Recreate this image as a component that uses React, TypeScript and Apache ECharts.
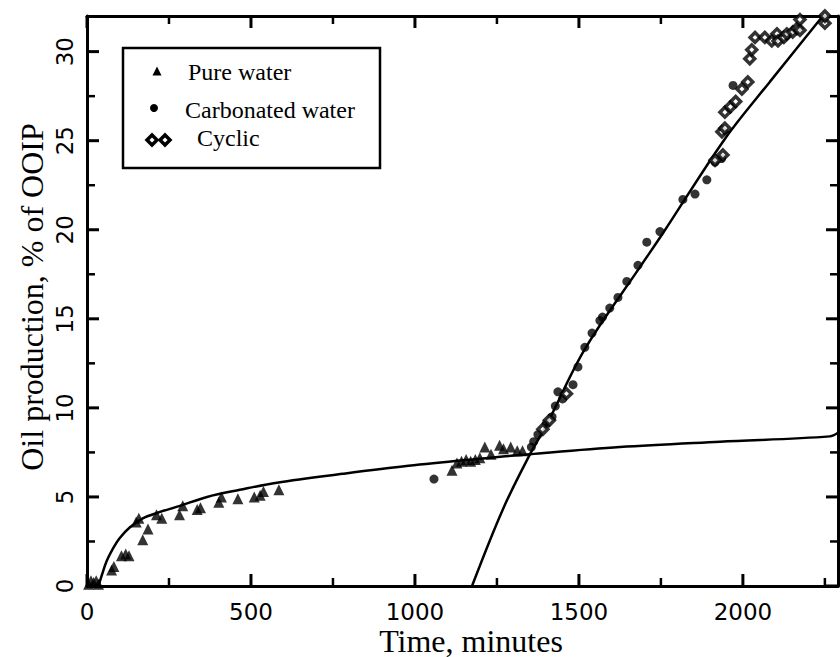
import React, { useEffect, useRef } from "react";
import * as echarts from "echarts";

// ---- data (time in minutes, oil production in % of OOIP) ----
const pureWater: number[][] = [
  [5, 0.1], [12, 0.3], [20, 0.2], [28, 0.3], [35, 0.1], [75, 0.9], [82, 1.1],
  [105, 1.7], [118, 1.8], [128, 1.7], [150, 3.6], [158, 3.8], [170, 2.6],
  [186, 3.2], [212, 4.0], [228, 3.8], [282, 4.0], [292, 4.5], [336, 4.3],
  [346, 4.4], [402, 4.7], [410, 5.0], [460, 4.9], [510, 5.0], [528, 5.1],
  [538, 5.3], [585, 5.4],
  [1113, 6.5], [1128, 6.9], [1142, 7.0], [1156, 7.1], [1170, 7.0], [1184, 7.1],
  [1198, 7.2], [1213, 7.8], [1232, 7.4], [1258, 7.9], [1270, 7.7], [1292, 7.8],
  [1312, 7.6], [1328, 7.6],
];

const carbonatedWater: number[][] = [
  [1058, 6.0], [1355, 7.8], [1362, 8.1], [1375, 8.5], [1400, 9.1], [1418, 9.5],
  [1428, 10.1], [1436, 10.9], [1450, 10.5], [1482, 11.3], [1497, 12.3],
  [1518, 13.4], [1540, 14.2], [1564, 14.9], [1572, 15.1], [1594, 15.6],
  [1619, 16.2], [1646, 17.1], [1680, 18.0], [1707, 19.3], [1747, 19.9],
  [1817, 21.7], [1854, 22.0], [1890, 22.8], [1915, 23.8], [1935, 24.0],
  [1970, 28.1],
];

const cyclic: number[][] = [
  [1390, 8.8], [1410, 9.3], [1462, 10.8], [1915, 23.9], [1939, 24.2],
  [1936, 25.5], [1945, 25.7], [1945, 26.6], [1962, 26.9], [1978, 27.2],
  [1997, 27.9], [2015, 28.3], [2021, 29.6], [2027, 30.1], [2037, 30.8],
  [2067, 30.8], [2088, 30.6], [2104, 31.0], [2107, 30.6], [2125, 30.8],
  [2134, 31.0], [2152, 31.1], [2165, 31.3], [2174, 31.2], [2174, 31.8],
  [2250, 31.6], [2250, 32.0],
];

const pureFit: number[][] = [
  [35, 0], [45, 0.6], [60, 1.4], [79, 2.1], [100, 2.7], [131, 3.3], [170, 3.8],
  [213, 4.1], [283, 4.5], [366, 5.0], [466, 5.4], [579, 5.8], [780, 6.3],
  [980, 6.75], [1200, 7.15], [1351, 7.4], [1625, 7.8],
  [1930, 8.1], [2265, 8.4], [2290, 8.6],
];

const carbonatedFit: number[][] = [
  [1174, 0], [1268, 4.3], [1351, 7.4], [1400, 9.0], [1518, 13.3],
  [1686, 17.9], [1756, 19.8], [1945, 25.1], [2082, 28.3], [2235, 31.8],
  [2262, 32.4],
];

// ---- axes ----
const xMin = 0, xMax = 2290, xStep = 500;
const yMin = 0, yMax = 32, yStep = 5;
const xMajorTicks = [0, 500, 1000, 1500, 2000];
const xMinorTicks = [250, 750, 1250, 1750, 2250];
const yMajorTicks = [0, 5, 10, 15, 20, 25, 30];
const yMinorTicks = [2.5, 7.5, 12.5, 17.5, 22.5, 27.5];

const legendNames = ["Pure water", "Carbonated water", "Cyclic"];
const xTitle = "Time, minutes";
const yTitle = "Oil production, % of OOIP";

export default function App() {
  const ref = useRef<HTMLDivElement>(null);

  useEffect(() => {
    document.body.style.margin = "0";
    if (!ref.current) return;
    const chart = echarts.init(ref.current, null, { renderer: "svg" });

    const black = "#000";
    const tickFont = { color: black, fontSize: 23, fontFamily: "DejaVu Sans" };

    const axisCommon = {
      type: "value",
      axisLine: { show: true, onZero: false, lineStyle: { color: black, width: 3 } },
      axisTick: { show: false },
      minorTick: { show: false },
      splitLine: { show: false },
      minorSplitLine: { show: false },
    };
    const xRange = { min: xMin, max: xMax, interval: xStep };
    const yRange = { min: yMin, max: yMax, interval: yStep };

    const diamond = (cx: number, cy: number, r: number) => [
      [cx, cy - r], [cx + r, cy], [cx, cy + r], [cx - r, cy],
    ];

    const baseGraphic: any[] = [
      {
        type: "text", x: 471, y: 641, z: 11,
        style: { text: xTitle, fontSize: 32, fontFamily: "Liberation Serif", fill: black, align: "center", verticalAlign: "middle" },
      },
      {
        type: "text", x: 32, y: 297, rotation: Math.PI / 2, z: 11,
        style: { text: yTitle, fontSize: 32, fontFamily: "Liberation Serif", fill: black, align: "center", verticalAlign: "middle" },
      },
      {
        type: "rect",
        shape: { x: 123, y: 48, width: 257, height: 120 },
        style: { fill: "#fff", stroke: black, lineWidth: 2.5 },
        z: 10,
      },
      {
        type: "polygon",
        shape: { points: [[157, 66.5], [152.5, 75.5], [161.5, 75.5]] },
        style: { fill: black },
        z: 11,
      },
      { type: "circle", shape: { cx: 154, cy: 108, r: 4 }, style: { fill: black }, z: 11 },
      {
        type: "polygon",
        shape: { points: diamond(152, 140, 5) },
        style: { fill: "#fff", stroke: black, lineWidth: 3.5 },
        z: 11,
      },
      {
        type: "polygon",
        shape: { points: diamond(165, 140, 5) },
        style: { fill: "#fff", stroke: black, lineWidth: 3.5 },
        z: 11,
      },
      {
        type: "text", x: 188, y: 72, z: 11,
        style: { text: legendNames[0], fontSize: 24, fontFamily: "Liberation Serif", fill: black, verticalAlign: "middle" },
      },
      {
        type: "text", x: 185, y: 110, z: 11,
        style: { text: legendNames[1], fontSize: 24, fontFamily: "Liberation Serif", fill: black, verticalAlign: "middle" },
      },
      {
        type: "text", x: 197, y: 138, z: 11,
        style: { text: legendNames[2], fontSize: 24, fontFamily: "Liberation Serif", fill: black, verticalAlign: "middle" },
      },
    ];

    chart.setOption({
      animation: false,
      grid: { left: 87, right: 2, top: 16, bottom: 71 },
      xAxis: [
        {
          ...axisCommon,
          ...xRange,
          position: "bottom",
          axisLabel: {
            ...tickFont,
            margin: 14,
            showMaxLabel: false,
            formatter: (v: number) => String(v),
          },
        },
        { ...axisCommon, ...xRange, position: "top", axisLabel: { show: false } },
      ],
      yAxis: [
        {
          ...axisCommon,
          ...yRange,
          position: "left",
          axisLabel: {
            ...tickFont,
            rotate: 90,
            margin: 11,
            showMaxLabel: false,
            formatter: (v: number) => String(v),
          },
        },
        { ...axisCommon, ...yRange, position: "right", axisLabel: { show: false } },
      ],
      graphic: baseGraphic,
      series: [
        {
          name: "Pure water fit",
          type: "line",
          data: pureFit,
          smooth: 0.35,
          symbol: "none",
          lineStyle: { color: black, width: 2.5 },
          z: 3,
        },
        {
          name: "Carbonated water fit",
          type: "line",
          data: carbonatedFit,
          smooth: 0.35,
          symbol: "none",
          lineStyle: { color: black, width: 2.5 },
          z: 3,
        },
        {
          name: legendNames[0],
          type: "scatter",
          data: pureWater,
          symbol: "triangle",
          symbolSize: 11,
          itemStyle: { color: black },
          z: 4,
        },
        {
          name: legendNames[1],
          type: "scatter",
          data: carbonatedWater,
          symbol: "circle",
          symbolSize: 9,
          itemStyle: { color: black },
          z: 4,
        },
        {
          name: legendNames[2],
          type: "scatter",
          data: cyclic,
          symbol: "rect",
          symbolRotate: 45,
          symbolSize: 7,
          itemStyle: { color: "#fff", borderColor: black, borderWidth: 3.5 },
          z: 5,
        },
      ],
    });

    // inward tick marks on all four sides of the frame, placed through the axes' own scales
    const toPx = (x: number, y: number) =>
      chart.convertToPixel({ gridIndex: 0 }, [x, y]) as unknown as number[];
    const [xLeft, yBottom] = toPx(xMin, yMin);
    const [xRight, yTop] = toPx(xMax, yMax);
    const tickLine = (x1: number, y1: number, x2: number, y2: number, w: number) => ({
      type: "line",
      silent: true,
      z: 2,
      shape: { x1, y1, x2, y2 },
      style: { stroke: black, lineWidth: w },
    });
    const ticks: any[] = [];
    const addX = (v: number, len: number, w: number) => {
      const px = toPx(v, yMin)[0];
      ticks.push(tickLine(px, yBottom, px, yBottom - len, w));
      ticks.push(tickLine(px, yTop, px, yTop + len, w));
    };
    const addY = (v: number, len: number, w: number) => {
      const py = toPx(xMin, v)[1];
      ticks.push(tickLine(xLeft, py, xLeft + len, py, w));
      ticks.push(tickLine(xRight, py, xRight - len, py, w));
    };
    xMajorTicks.forEach((v) => addX(v, 12, 3));
    xMinorTicks.forEach((v) => addX(v, 8, 2.5));
    yMajorTicks.forEach((v) => addY(v, 12, 3));
    yMinorTicks.forEach((v) => addY(v, 8, 2.5));

    chart.setOption({ graphic: [...baseGraphic, ...ticks] });

    return () => chart.dispose();
  }, []);

  return <div ref={ref} style={{ width: 840, height: 657 }} />;
}
